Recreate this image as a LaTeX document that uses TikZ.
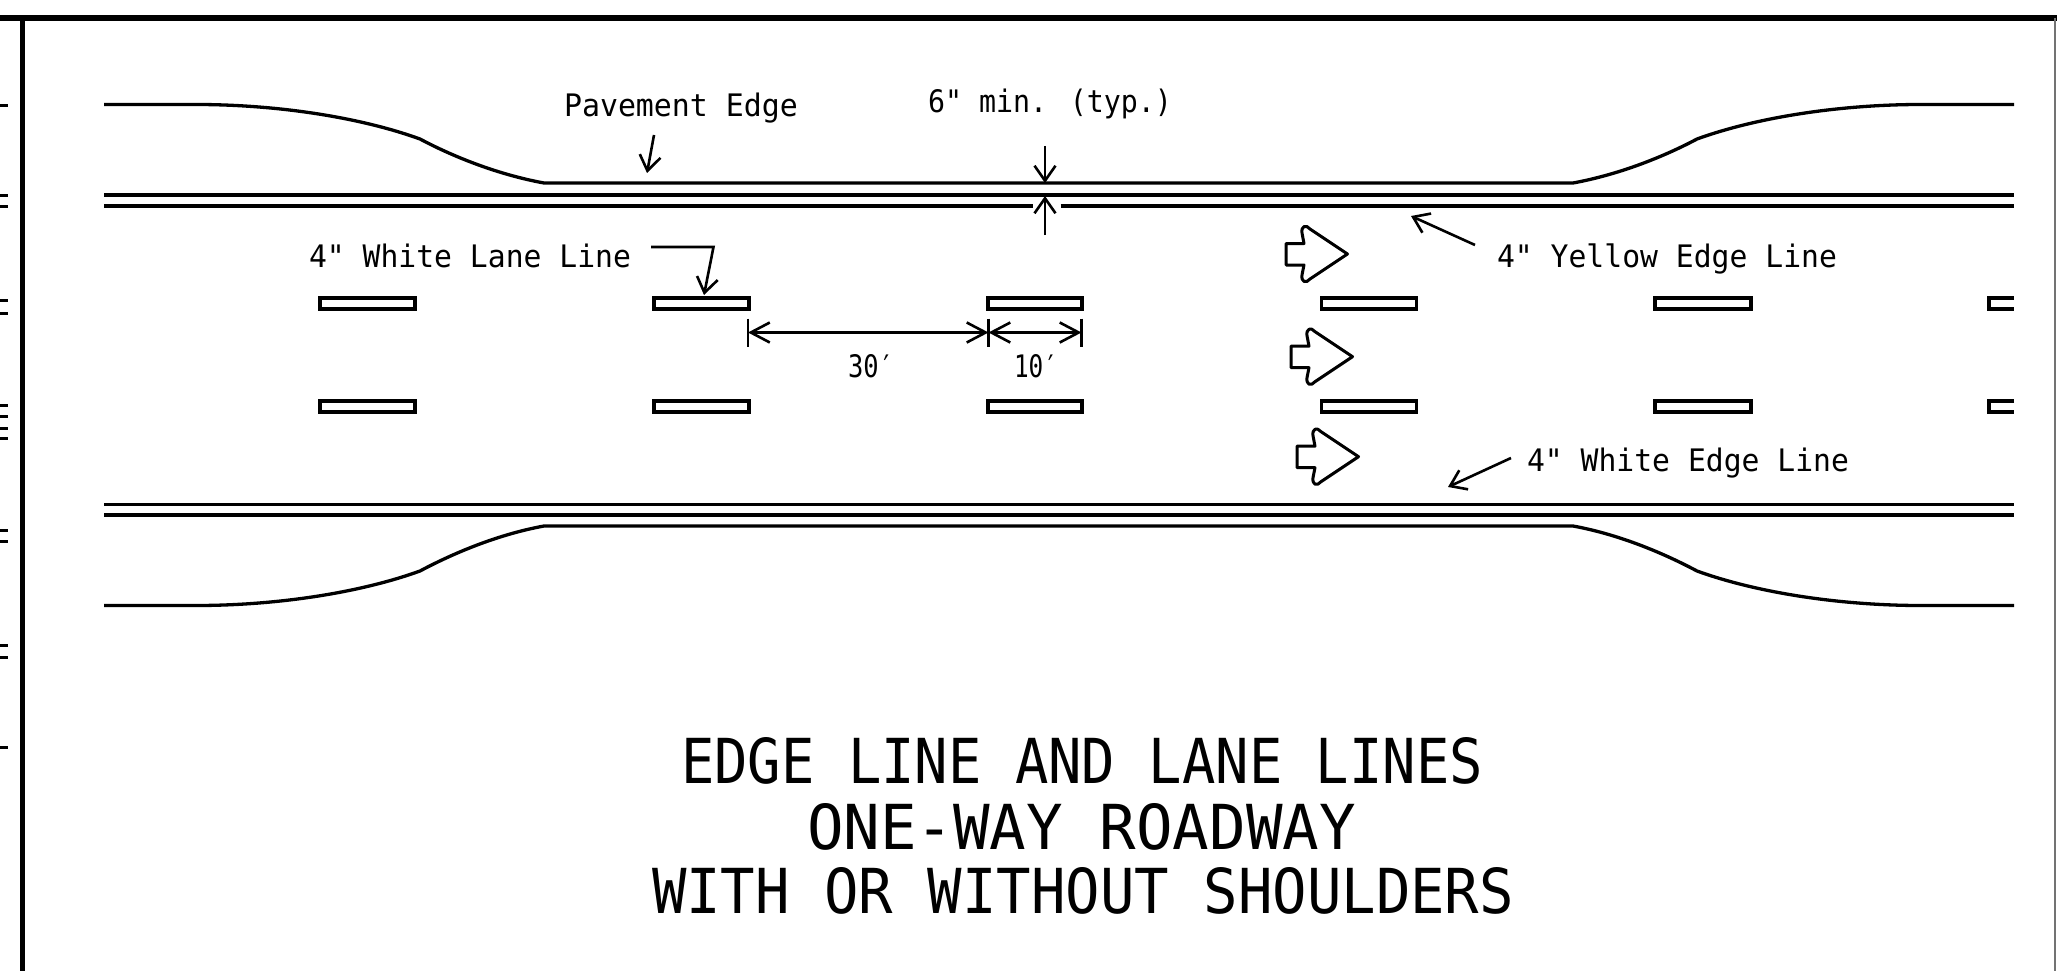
\documentclass[tikz,border=0pt]{standalone}
\usepackage{fontspec}
\usepackage{graphicx}
\usetikzlibrary{arrows.meta}
\setmainfont{DejaVu Sans Mono}[Ligatures=TeXOff]
\newsavebox{\fitbox}
\newcommand{\fitw}[2]{\sbox{\fitbox}{#2}\pgfmathsetmacro{\fitr}{#1/\the\wd\fitbox}\scalebox{\fitr}[1]{\usebox{\fitbox}}}
\tikzset{
 edgeline/.style={line width=3.3pt,line cap=butt},
 lead/.style={line width=2.6pt,-{Straight Barb[length=15pt,width=21pt,line width=2.6pt]}},
 dimline/.style={line width=3pt,{Straight Barb[length=19pt,width=20pt,line width=2.6pt]}-{Straight Barb[length=19pt,width=20pt,line width=2.6pt]}},
 dashbar/.style={draw,line width=3.2pt},
 lbl/.style={inner sep=0pt,anchor=base,font=\fontsize{31}{36}\selectfont},
 ttl/.style={inner sep=0pt,anchor=base,font=\fontsize{62}{70}\selectfont},
 farrow/.style={line width=3pt,line join=round}
}
\begin{document}
\begin{tikzpicture}[x=1pt,y=-1pt]
\useasboundingbox (0,0) rectangle (2057,971);
% frame
\draw[line width=5.2pt] (0,18) -- (2057,18);
\draw[line width=4.6pt] (22.5,18) -- (22.5,971);
\draw[line width=1.6pt,black!55] (2055,18) -- (2055,971);
\foreach \y in {106,195,206,300,313,405,416,428,438,530,541,645,657,747}
  \draw[line width=3pt] (0,\y) -- (7.5,\y);
% road: top
\draw[edgeline] (104,104.5) -- (200,104.5) .. controls (285,105) and (365,119) .. (420,139)
   .. controls (450,155) and (495,174) .. (544,183) -- (1573,183)
   .. controls (1622,174) and (1667,155) .. (1697,139)
   .. controls (1752,119) and (1832,105) .. (1917,104.5) -- (2014,104.5);
\draw[edgeline] (104,195) -- (2014,195);
\draw[edgeline] (104,206) -- (1033,206);
\draw[edgeline] (1060.5,206) -- (2014,206);
% road: bottom
\draw[edgeline] (104,504.5) -- (2014,504.5);
\draw[edgeline] (104,515) -- (2014,515);
\draw[edgeline] (104,605.5) -- (200,605.5) .. controls (285,605) and (365,591) .. (420,571)
   .. controls (450,555) and (495,535) .. (544,526) -- (1573,526)
   .. controls (1622,535) and (1667,555) .. (1697,571)
   .. controls (1752,591) and (1832,605) .. (1917,605.5) -- (2014,605.5);
% dashes
\foreach \xa/\xb in {320/415,654/749,988/1082,1321.5/1416.5,1655/1751}{
  \draw[dashbar] (\xa,298) rectangle (\xb,309);
  \draw[dashbar] (\xa,401) rectangle (\xb,412);
}
\draw[dashbar] (2014,298) -- (1989,298) -- (1989,309) -- (2014,309);
\draw[dashbar] (2014,401) -- (1989,401) -- (1989,412) -- (2014,412);
% arrow symbols
\foreach \dx/\dy [count=\i] in {0/0,5/102.7,11/202.7}{
\begin{scope}[shift={(\dx,\dy)}]
\draw[farrow] (1286,243.5) -- (1304,243.5) -- (1302,233) .. controls (1301,226) and (1306,224) .. (1310,229)
  -- (1347.5,254) -- (1310,279) .. controls (1306,284) and (1301,282) .. (1302,275) -- (1304,265) -- (1286,265) -- cycle;
\end{scope}}
% labels
\node[lbl] (pave) at (681,117) {\fitw{234}{Pavement Edge}};
\node[lbl] (six) at (1050,113) {\fitw{244}{6" min. (typ.)}};
\node[lbl] (wll) at (470,267) {\fitw{322}{4" White Lane Line}};
\node[lbl] (yel) at (1667,267) {\fitw{340}{4" Yellow Edge Line}};
\node[lbl] (wel) at (1688,471) {\fitw{322}{4" White Edge Line}};
\node[lbl] (d30) at (871,377) {\fitw{46}{30′}};
\node[lbl] (d10) at (1036,377) {\fitw{44}{10′}};
\node[ttl] (t1) at (1082,783) {\fitw{802}{EDGE LINE AND LANE LINES}};
\node[ttl] (t2) at (1081.5,849) {\fitw{549}{ONE-WAY ROADWAY}};
\node[ttl] (t3) at (1083,913) {\fitw{862}{WITH OR WITHOUT SHOULDERS}};
% leaders
\coordinate (pa) at (654,135); \coordinate (pb) at (647,173);
\draw[lead] (pa) -- (pb);
\coordinate (sa) at (1045,146); \coordinate (sb) at (1045,183);
\draw[lead] (sa) -- (sb);
\coordinate (sc) at (1045,235); \coordinate (sd) at (1045,196);
\draw[lead] (sc) -- (sd);
\coordinate (wa) at (651,247); \coordinate (wb) at (713.5,247); \coordinate (wc) at (704,295);
\draw[lead,line join=miter] (wa) -- (wb) -- (wc);
\coordinate (ya) at (1475,245); \coordinate (yb) at (1411,216);
\draw[lead] (ya) -- (yb);
\coordinate (ea) at (1511,458); \coordinate (eb) at (1448,487);
\draw[lead] (ea) -- (eb);
% dimensions
\coordinate (x1) at (748,332.5); \coordinate (x2) at (988.5,332.5); \coordinate (x3) at (1081.5,332.5);
\draw[dimline] (x1) -- (x2);
\draw[dimline] (x2) -- (x3);
\foreach \c in {x1,x2,x3}
  \draw[line width=2.6pt] ([yshift=14pt]\c) -- ([yshift=-14.5pt]\c);
\end{tikzpicture}
\end{document}
